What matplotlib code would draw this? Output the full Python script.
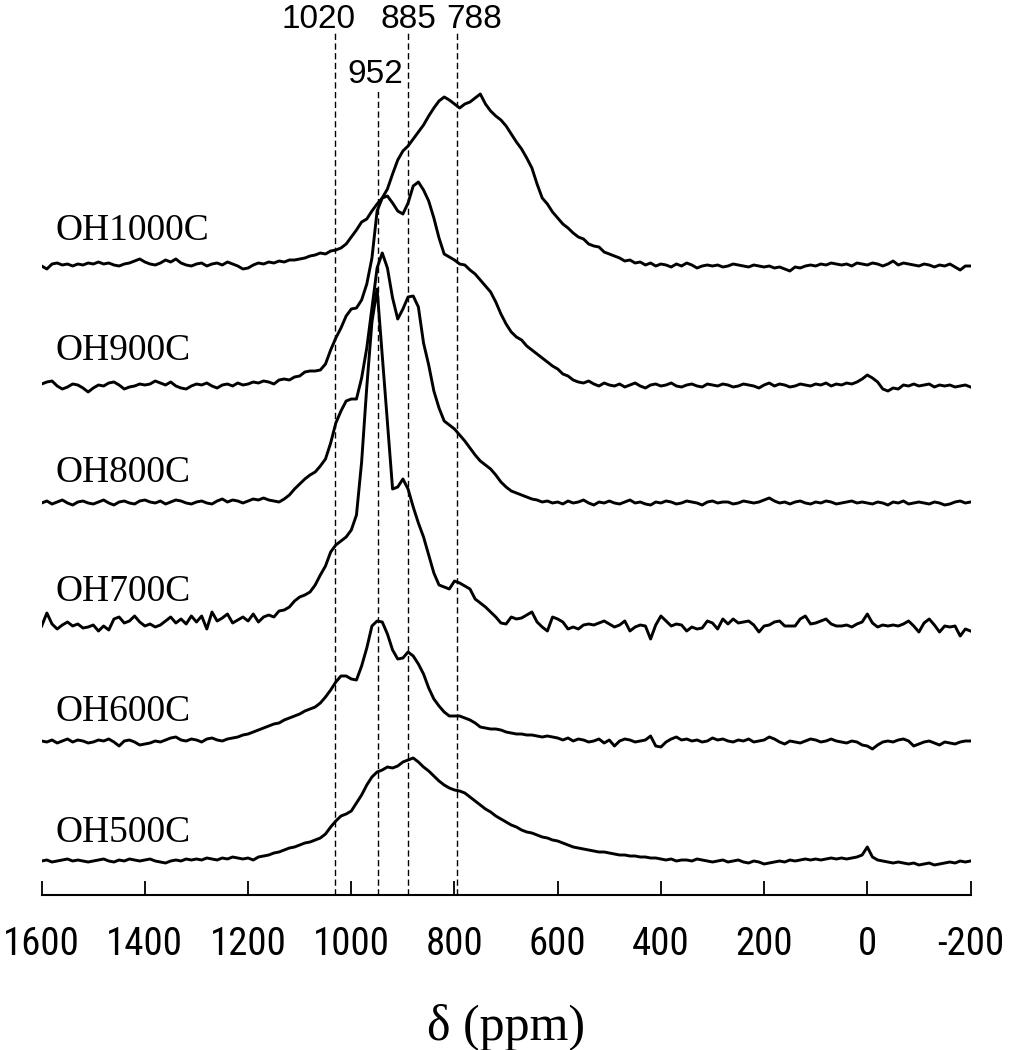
import numpy as np
import matplotlib
matplotlib.use("Agg")
import matplotlib.pyplot as plt
from matplotlib import font_manager

# ---------------- data ----------------
# chemical shift grid (ppm), 10 ppm steps from 1600 down to -200
ppm = np.arange(1600, -201, -10)

sample_labels = ["OH1000C", "OH900C", "OH800C", "OH700C", "OH600C", "OH500C"]

oh1000 = [
    0, -3, 2, 3, 1, 2, 0, 2, 1, 3,
    2, 4, 2, 3, 1, 0, 2, 3, 5, 7,
    4, 2, 1, 3, 6, 4, 7, 3, 1, 0,
    2, 3, 0, 2, 3, 1, 4, 2, 0, -3,
    -2, 1, 3, 2, 4, 3, 5, 4, 6, 6,
    7, 8, 10, 11, 13, 12, 15, 16, 18, 22,
    29, 36, 44, 47, 55, 62, 68, 77, 92, 106,
    115, 120, 127, 134, 141, 150, 158, 165, 169, 166,
    162, 158, 162, 164, 168, 172, 162, 155, 150, 146,
    140, 132, 124, 117, 108, 98, 82, 68, 62, 54,
    48, 42, 38, 33, 29, 27, 22, 20, 19, 14,
    12, 10, 8, 5, 6, 3, 4, 1, 3, 0,
    2, 1, -1, 2, 0, 3, 1, -2, 0, 1,
    0, 1, -1, 0, 2, 1, 0, -1, 1, 0,
    -1, 0, -2, -1, -3, -5, -1, -2, 0, 1,
    0, 2, 1, 3, 2, 1, 2, 0, 3, 2,
    1, 3, 2, 0, 2, 5, 1, 3, 2, 1,
    0, 2, 1, -1, 1, 0, 2, -1, -4, 0,
    0]

oh900 = [
    2, 4, 5, 0, -3, -1, 2, 1, -2, -6,
    -2, 1, 0, 3, 4, 1, -3, -1, 0, 2,
    1, 2, 5, 3, 1, 4, 0, -2, -3, 0,
    2, 1, 3, 0, -2, 1, 2, 0, 3, 1,
    2, 4, 3, 5, 4, 2, 6, 7, 6, 9,
    10, 14, 15, 15, 16, 22, 36, 48, 58, 70,
    77, 78, 86, 102, 128, 175, 188, 190, 183, 175,
    172, 183, 200, 204, 196, 185, 168, 148, 132, 129,
    126, 122, 121, 116, 112, 106, 100, 94, 84, 72,
    62, 54, 49, 46, 40, 36, 32, 28, 24, 20,
    17, 12, 10, 6, 4, 3, 5, 2, 0, 3,
    1, 0, 2, -1, 1, 3, 0, -2, 1, 2,
    0, 1, 3, 0, -1, 1, 2, 0, -1, 2,
    1, 0, 2, 1, -1, 0, 2, 1, 0, -2,
    1, 3, 0, 2, 1, -1, 0, 2, 1, 0,
    2, 1, 3, 0, 2, 1, 3, 2, 4, 7,
    11, 8, 4, -3, -5, -2, -3, 1, 0, 2,
    0, 1, 2, -1, 1, 0, 1, -1, 0, 1,
    -1]

oh800 = [
    0, 2, -1, 1, 3, 0, -2, 1, 2, 0,
    -1, 1, 3, 0, -2, 1, 2, 0, -1, 2,
    3, 1, 0, 2, -1, 1, 3, 2, 0, -1,
    1, 2, 0, -1, 2, 4, 1, 3, 2, 0,
    2, 4, 3, 5, 3, 2, 1, 4, 8, 14,
    19, 24, 28, 31, 37, 44, 60, 80, 92, 102,
    104, 104, 125, 155, 195, 235, 250, 235, 205, 184,
    194, 206, 207, 196, 160, 138, 112, 95, 82, 78,
    74, 68, 62, 55, 48, 42, 38, 34, 28, 21,
    16, 12, 10, 8, 6, 4, 3, 1, 2, 0,
    1, -1, 2, 0, 1, 3, 0, -2, 1, 0,
    2, 0, -1, 1, 3, 0, 1, -1, -2, 1,
    0, 2, 1, -1, 0, 2, 1, 0, -2, 1,
    2, 0, 1, 1, -1, 0, 2, 1, 0, 1,
    3, 5, 2, 0, 1, -1, 1, 2, 0, -1,
    1, 0, 2, 1, -1, 0, 1, 2, 0, 1,
    0, -1, 1, 0, -2, 1, 0, 2, -1, 0,
    1, 0, -1, 1, 0, -2, -1, 1, 2, 0,
    1]

oh700 = [
    1, 14, 3, -2, 2, 5, 1, 3, -1, 0,
    2, -4, 1, -3, 8, 10, 4, 6, 11, 5,
    1, 3, 0, 2, 6, 10, 4, 8, 3, 11,
    5, 11, -2, 15, 6, 9, 13, 4, 7, 10,
    6, 13, 5, 10, 12, 10, 16, 17, 20, 26,
    30, 32, 35, 42, 52, 61, 75, 82, 86, 90,
    97, 112, 165, 240, 305, 338, 271, 205, 138, 140,
    148, 138, 120, 104, 90, 72, 54, 42, 40, 38,
    46, 44, 41, 38, 28, 24, 20, 15, 10, 4,
    3, 10, 8, 9, 12, 15, 5, 0, -4, 10,
    8, 5, -2, 0, -2, 2, 3, 2, 4, 6,
    3, 0, 2, 6, -4, 0, 2, 1, -12, 2,
    11, 6, 1, 3, 2, -4, 0, -2, -1, 6,
    4, -2, 8, 3, 8, 4, 5, 6, 2, -5,
    1, 2, 5, 6, 1, 1, 1, 8, 11, 3,
    4, 6, 8, 3, 1, 1, 2, 0, 3, 5,
    13, 4, 0, 2, 1, 2, 1, 3, 6, 1,
    -5, 4, 8, 2, -5, 1, 0, 1, -9, -2,
    -4]

oh600 = [
    1, 0, 2, -1, 1, 3, 0, 2, 1, -1,
    0, 2, 1, 3, 0, -4, 1, 2, 0, -3,
    -2, -1, 1, 0, 2, 4, 5, 2, 1, 3,
    2, 0, 3, 4, 2, 1, 3, 4, 5, 7,
    8, 10, 12, 14, 16, 18, 19, 22, 24, 26,
    28, 31, 33, 35, 39, 45, 52, 60, 66, 66,
    63, 62, 76, 94, 116, 121, 120, 108, 92, 83,
    84, 90, 86, 78, 68, 54, 43, 36, 30, 26,
    26, 26, 24, 22, 19, 15, 14, 13, 13, 12,
    10, 9, 8, 8, 7, 7, 6, 5, 6, 5,
    4, 2, 4, 1, 3, 2, 0, 1, 3, -1,
    2, -4, 1, 3, 2, 0, 1, 2, 6, -4,
    -5, 0, 3, 5, 2, 3, 1, 2, 0, 1,
    4, 2, 3, 1, 0, 2, 1, 3, 0, 1,
    2, 5, 3, 0, -2, 1, 0, -1, 1, 3,
    2, 0, 1, 3, 1, 0, -1, 1, 0, -3,
    -4, -7, -3, 0, 1, 0, 2, 3, 1, -4,
    -2, 0, 1, -1, -3, 0, -1, -2, 0, 1,
    1]

oh500 = [
    0, 1, -1, 0, 1, 2, 0, 1, 0, -1,
    0, 1, 2, 0, -1, 1, 0, 2, 1, 0,
    1, 2, 0, -1, -2, 0, 1, 0, 2, 1,
    2, 1, 3, 2, 1, 3, 2, 4, 3, 2,
    3, 1, 4, 5, 6, 8, 9, 11, 13, 14,
    16, 18, 19, 21, 23, 27, 34, 40, 45, 47,
    50, 58, 66, 76, 84, 89, 91, 94, 93, 95,
    99, 101, 103, 99, 94, 90, 85, 80, 76, 73,
    71, 70, 68, 64, 60, 56, 52, 49, 45, 42,
    39, 36, 34, 31, 29, 28, 26, 24, 23, 21,
    20, 18, 16, 14, 13, 12, 11, 10, 9, 9,
    8, 7, 6, 6, 5, 5, 4, 4, 3, 3,
    2, 1, 2, 0, 1, 1, 0, 2, 1, 0,
    -1, 0, 1, -1, 0, 1, -1, -2, 0, -1,
    -3, -2, -1, 0, -1, 1, 0, 1, 2, 1,
    2, 1, 2, 3, 2, 3, 2, 3, 4, 6,
    14, 4, 1, 0, -1, -2, -1, -2, -3, -2,
    -4, -3, -2, -4, -3, -2, -1, -2, 0, -1,
    0]

spectra = [oh1000, oh900, oh800, oh700, oh600, oh500]

# marked peak positions (label text, drawn position in ppm)
peak_labels = ["1020", "952", "885", "788"]
peak_lines = [1032, 949, 890, 796]

xticks = [1600, 1400, 1200, 1000, 800, 600, 400, 200, 0, -200]

# ---------------- layout / style ----------------
offsets = [629, 509, 392, 268, 153, 34]        # vertical stacking
label_gap = [26, 26, 21, 26, 21, 19]           # label baseline above trace
peak_label_x = [1064, 954, 890, 762]
peak_label_y = [867, 812, 867, 867]
line_top = [863, 805, 863, 863]

names = {f.name for f in font_manager.fontManager.ttflist}
tick_family, tick_size = "Liberation Sans", 24
for cand in ["Liberation Sans Narrow", "Arial Narrow", "Roboto Condensed"]:
    if cand in names:
        tick_family, tick_size = cand, 28
        break

W, H = 1010, 1050
fig = plt.figure(figsize=(W / 100, H / 100), dpi=100)
ax = fig.add_axes([41.7 / W, 155 / H, 928.8 / W, 895 / H])
ax.set_xlim(1600, -200)
ax.set_ylim(0, 895)

for spec, off, lab, gap in zip(spectra, offsets, sample_labels, label_gap):
    ax.plot(ppm, np.asarray(spec) + off, color="black", lw=2.1,
            solid_joinstyle="round", zorder=3)
    ax.text(1573, off + gap, lab, family="Liberation Serif", fontsize=27,
            ha="left", va="baseline", color="black")

for lab, xl, xt, yt, top in zip(peak_labels, peak_lines, peak_label_x,
                                peak_label_y, line_top):
    ax.plot([xl, xl], [0, top], color="black", lw=1.0, dashes=(4.5, 2.5),
            zorder=2)
    ax.text(xt, yt, lab, family="Liberation Sans", fontsize=24,
            ha="center", va="baseline", color="black")

for s in ["left", "right", "top"]:
    ax.spines[s].set_visible(False)
ax.spines["bottom"].set_linewidth(1.5)
ax.set_yticks([])
ax.set_xticks(xticks)
ax.set_xticklabels([str(t) for t in xticks], family=tick_family,
                   fontsize=tick_size)
ax.tick_params(axis="x", direction="in", length=10, width=1.3, pad=22,
               colors="black")
ax.set_xlabel("δ (ppm)", family="Liberation Serif", fontsize=36,
              labelpad=30)

fig.savefig("out.png", dpi=100)
